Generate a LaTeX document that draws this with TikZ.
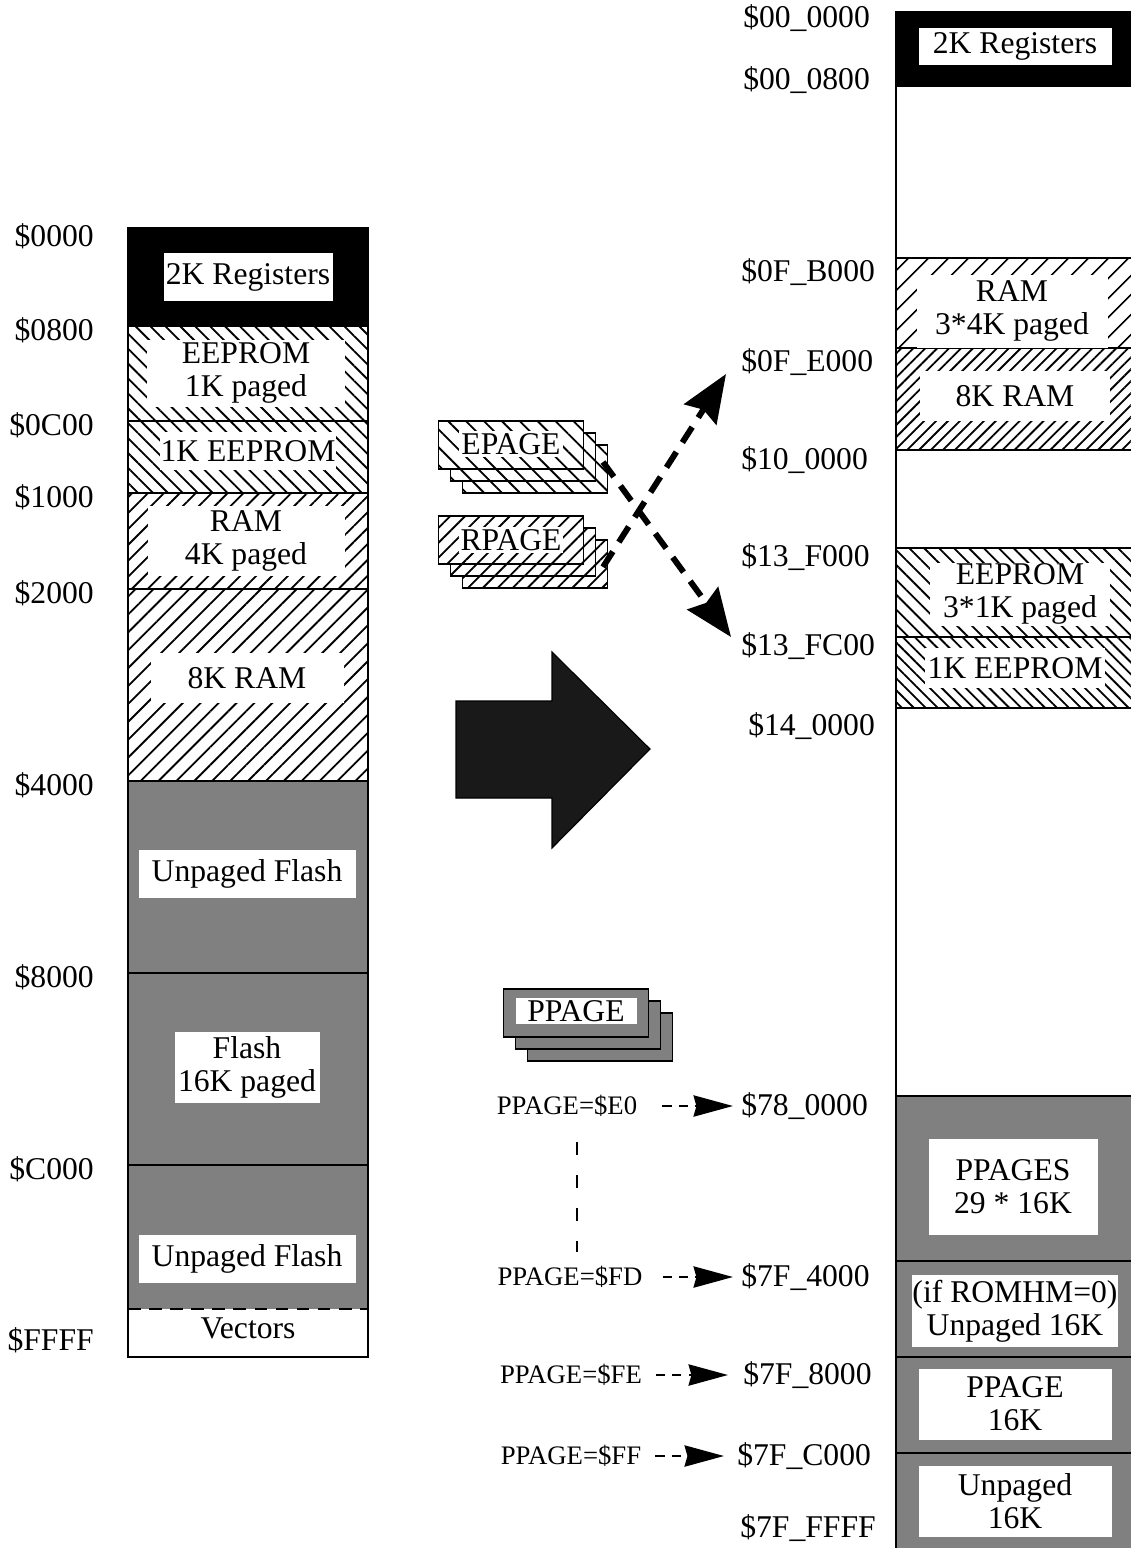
\documentclass[tikz,border=0pt]{standalone}
\usepackage{fontspec}
\setmainfont{Liberation Serif}
\usetikzlibrary{patterns.meta, arrows.meta}
\definecolor{flashgray}{gray}{0.5}
\newdimen\unitpx \unitpx=0.025cm
\tikzstyle{addr}=[inner sep=0pt, font=\fontsize{22.5}{23.5}\selectfont]
\tikzstyle{tagbox}=[fill=white, inner sep=0pt, align=center, font=\fontsize{22.5}{23.5}\selectfont]
\tikzstyle{pgreg}=[inner sep=0pt, font=\fontsize{19}{20}\selectfont]
\tikzstyle{stackbox}=[draw, line width=1.4pt, minimum width=145\unitpx, minimum height=48\unitpx]
\tikzstyle{rowline}=[line width=1.4pt]
\tikzset{
  box/.style 2 args={minimum width=#1\unitpx, minimum height=#2\unitpx},
  eehatch/.style={pattern={Lines[angle=-45,distance=#1,line width=1.3pt]}},
  ramhatch/.style={pattern={Lines[angle=45,distance=#1,line width=1.3pt]}},
  bigdash/.style={line width=4.2pt, dash pattern=on 13pt off 8pt, -{Stealth[length=34pt,width=27pt,inset=4pt]}},
  pgdash/.style={line width=2pt, dash pattern=on 6.5pt off 5pt, -{Stealth[length=28pt,width=15pt,inset=2pt]}}
}
\newcommand{\addr}{\node[addr]}
\newcommand{\tagbox}{\node[tagbox]}

\begin{document}
\begin{tikzpicture}[x=0.025cm, y=-0.025cm]
\useasboundingbox (0,0) rectangle (1131,1548);
% left map
\fill[black] (128,228) rectangle (368,326);
\path[eehatch=7.5pt] (128,326) rectangle (368,493);
\path[ramhatch=8pt] (128,493) rectangle (368,589);
\path[ramhatch=9pt] (128,589) rectangle (368,781);
\fill[flashgray] (128,781) rectangle (368,1309);
\foreach \y in {326,421,493,589,781,973,1165}{
	\draw[rowline] (128,\y) -- (368,\y);
	}
\draw[rowline, dash pattern=on 9pt off 6pt] (128,1309) -- (368,1309);
\draw[rowline] (128,228) rectangle (368,1357);

\tagbox (lreg) at (248,277)[box={169}{48}]{2K Registers};
\tagbox (lee) at (246,373)[box={198}{67}]{EEPROM\\1K paged};
\tagbox (lee1) at (248,451)[box={176}{38}]{1K EEPROM};
\tagbox (lram) at (246,541)[box={197}{70}]{RAM\\4K paged};
\tagbox (lram8) at (247,678)[box={193}{50}]{8K RAM};
\tagbox (lfl1) at (247,874)[box={217}{48}]{Unpaged Flash};
\tagbox (lfl2) at (247,1067)[box={145}{71}]{Flash\\16K paged};
\tagbox (lfl3) at (247,1259)[box={217}{48}]{Unpaged Flash};
\addr (lvec) at (248,1328){Vectors};

\foreach \y/\t in {236/0000,330/0800,425/0C00,497/1000,593/2000,785/4000,977/8000,1169/C000,1340/FFFF}{
	\addr (a\t) at (94,\y)[anchor=east]{\$\t};
	}

% right map
\fill[black] (896,12) rectangle (1136,86);
\path[ramhatch=10.5pt] (896,258) rectangle (1136,348);
\path[ramhatch=6pt] (896,348) rectangle (1136,450);
\path[eehatch=7.5pt] (896,548) rectangle (1136,637);
\path[eehatch=6pt] (896,637) rectangle (1136,708);
\fill[flashgray] (896,1096) rectangle (1136,1560);
\foreach \y in {86,258,348,450,548,637,708,1096,1261,1357,1453}{
	\draw[rowline] (896,\y) -- (1136,\y);
	}
\draw[rowline] (896,12) rectangle (1136,1560);

\tagbox (rreg) at (1015,46)[box={193}{37}]{2K Registers};
\tagbox (rram) at (1012,311)[box={191}{73}]{RAM\\3*4K paged};
\tagbox (rram8) at (1015,396)[box={190}{50}]{8K RAM};
\tagbox (ree) at (1020,594)[box={180}{63}]{EEPROM\\3*1K paged};
\tagbox (ree1) at (1015,668)[box={180}{40}]{1K EEPROM};
\tagbox (rpp) at (1013,1187)[box={169}{96}]{PPAGES\\29 * 16K};
\tagbox (rrom) at (1015,1311)[box={193}{72}]{(if ROMHM=0)\\Unpaged 16K};
\tagbox (rpg) at (1015,1404)[box={193}{71}]{PPAGE\\16K};
\tagbox (run) at (1015,1501)[box={193}{71}]{Unpaged\\16K};

\foreach \x/\y/\t [count=\i] in {743/18/00\_0000, 743/80/00\_0800, 741/272/0F\_B000, 741/362/0F\_E000, 741/460/10\_0000, 741/557/13\_F000, 741/646/13\_FC00, 748/726/14\_0000, 741/1106/78\_0000, 741/1277/7F\_4000, 743/1375/7F\_8000, 737/1456/7F\_C000, 740/1528/7F\_FFFF}{
	\addr (r\i) at (\x,\y)[anchor=west]{\$\t};
	}

% page registers
\foreach \k in {2,1,0}{
	\node[stackbox, preaction={fill=white}, eehatch=9pt] (ep\k) at (511+12*\k,445+12*\k){};
	\node[stackbox, preaction={fill=white}, ramhatch=7.5pt] (rp\k) at (511+12*\k,540+12*\k){};
	\node[stackbox, fill=flashgray] (pp\k) at (576+12*\k,1013+12*\k){};
	}
\tagbox (eptxt) at (511,444)[box={104}{26}]{EPAGE};
\tagbox (rptxt) at (511,540)[box={104}{26}]{RPAGE};
\tagbox (pptxt) at (576,1011)[box={121}{26}]{PPAGE};

\coordinate (efrom) at (603,462);
\coordinate (eto) at (731,637);
\coordinate (rfrom) at (603,567);
\coordinate (rto) at (726,374);
\draw[bigdash] (efrom) -- (eto);
\draw[bigdash] (rfrom) -- (rto);

% big arrow
\filldraw[fill=black!90, draw=black, line width=0.8pt] (456,701) -- (552,701) -- (552,652) -- (650,749) -- (552,848) -- (552,798) -- (456,798) -- cycle;

% ppage values
\node[pgreg] (pe0) at (567,1106){PPAGE=\$E0};
\node[pgreg] (pfd) at (570,1277){PPAGE=\$FD};
\node[pgreg] (pfe) at (571,1375){PPAGE=\$FE};
\node[pgreg] (pff) at (571,1456){PPAGE=\$FF};
\foreach \a/\b/\s/\e in {pe0/r9/25/8, pfd/r10/20/8, pfe/r11/14/15, pff/r12/14/13}{
	\draw[pgdash, shorten <=\s\unitpx, shorten >=\e\unitpx] (\a.east) -- (\b.west);
	}
\coordinate (vtop) at (577,1142);
\coordinate (vbot) at (577,1252);
\draw[line width=2pt, dash pattern=on 9pt off 14.5pt] (vtop) -- (vbot);
\end{tikzpicture}
\end{document}
